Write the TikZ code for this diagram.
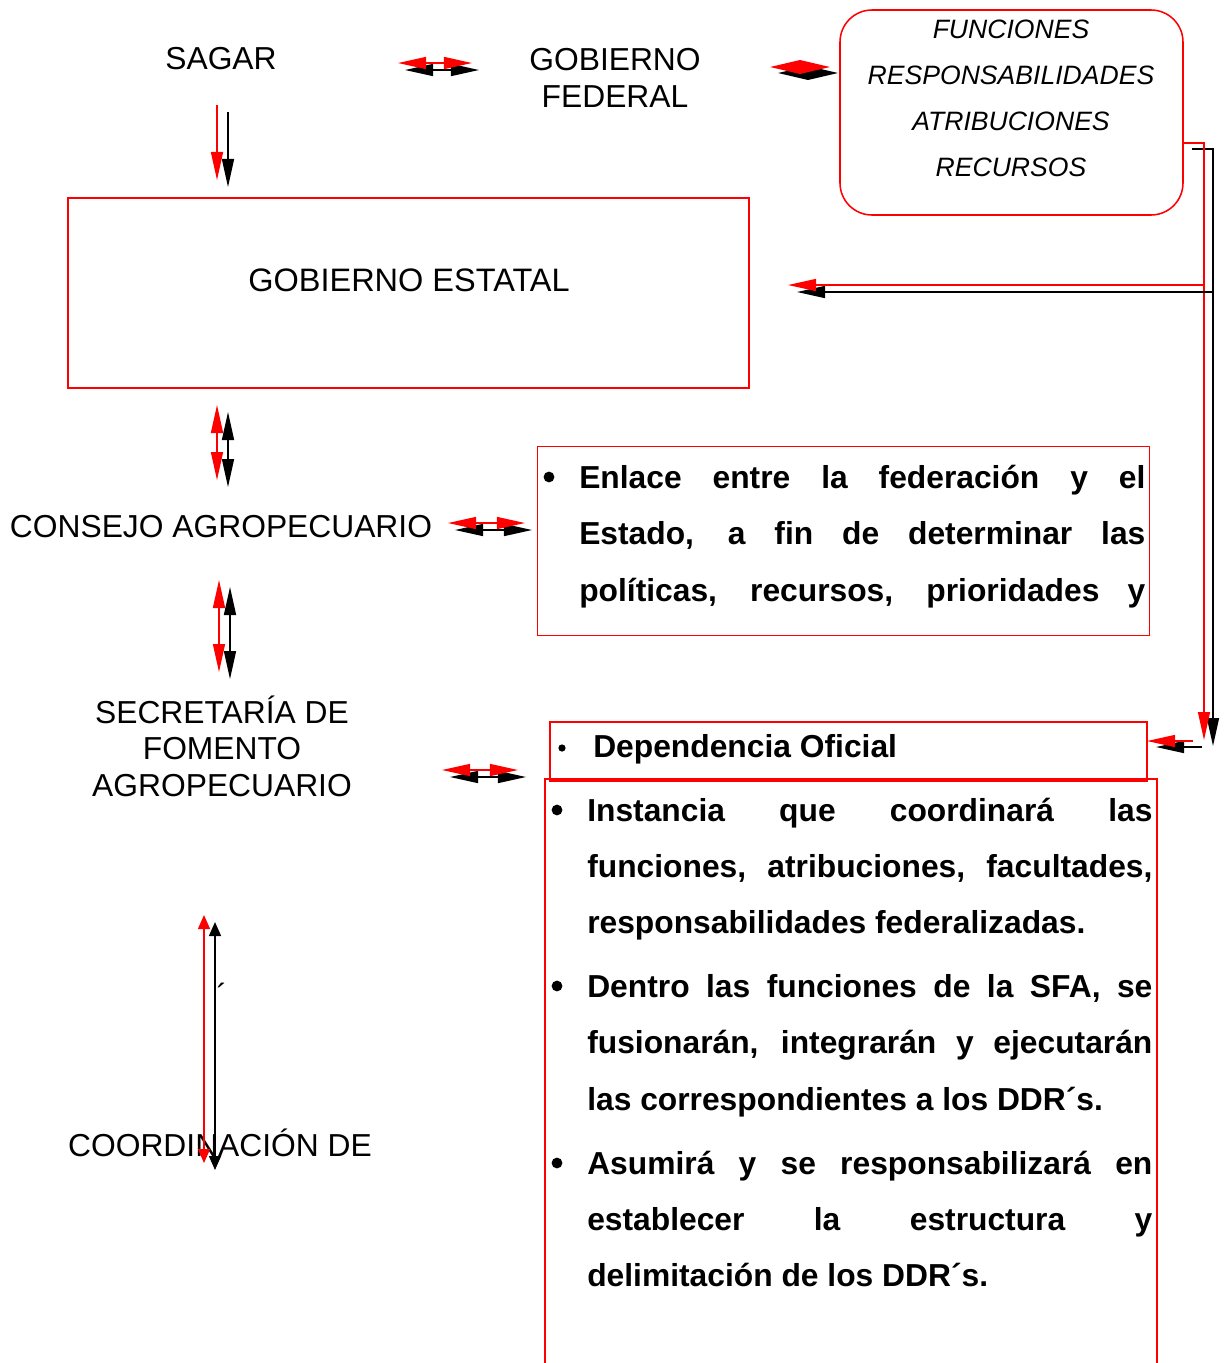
\documentclass[tikz,border=0pt]{standalone}
\usepackage{fontspec}
\setmainfont{Liberation Sans}
\usetikzlibrary{arrows.meta}

\begin{document}
\begin{tikzpicture}[x=0.025cm, y=-0.025cm,
  >={Triangle[length=0.7cm, width=0.3cm]},
  lbl/.style={font=\fontsize{22.6}{26}\selectfont, align=center, inner sep=0pt},
  itl/.style={font=\fontsize{18.9}{22}\selectfont\itshape, inner sep=0pt},
  bld/.style={font=\fontsize{22.6}{26}\selectfont\bfseries, inner sep=0pt, anchor=west, text height=16.2pt, text depth=0pt},
  dot/.style={circle, fill=black, inner sep=0pt, minimum size=0.27cm},
  arr/.style={red, line width=1pt},
  shd/.style={black, line width=1pt, transform canvas={shift={(#1)}}},
  shd/.default={7,7}]
  \useasboundingbox (0,0) rectangle (1227,1363);

  % text and boxes
  \node[lbl] (sagar) at (221,59) {SAGAR};
  \node[lbl] (gobfed) at (615,78) {GOBIERNO\\FEDERAL};
  \draw[red, line width=1.1pt, rounded corners=0.8cm] (840,10) rectangle (1183,215);
  \node[itl] (f1) at (1011,29) {FUNCIONES};
  \node[itl] (f2) at (1011,75) {RESPONSABILIDADES};
  \node[itl] (f3) at (1011,121) {ATRIBUCIONES};
  \node[itl] (f4) at (1011,167) {RECURSOS};
  \draw[red, line width=1.4pt] (68,198) rectangle (749,388);
  \node[lbl, font=\fontsize{23.1}{26}\selectfont] (estatal) at (409,280) {GOBIERNO ESTATAL};
  \node[lbl] (consejo) at (221,527) {CONSEJO AGROPECUARIO};
  \draw[red, line width=0.7pt] (537,446) rectangle (1149,635);
  \node[dot] at (549,477) {};
  \node[bld] (e1) at (579,477) {\makebox[14.15cm][s]{Enlace entre la federación y el}};
  \node[bld] (e2) at (579,533) {\makebox[14.15cm][s]{Estado, a fin de determinar las}};
  \node[bld] (e3) at (579,590) {\makebox[14.15cm][s]{políticas, recursos, prioridades y}};
  \node[lbl] (sfa) at (222,746) {SECRETARÍA DE\\FOMENTO\\AGROPECUARIO};
  \draw[red, line width=1.8pt] (550,722) rectangle (1147,781);
  \node[dot, minimum size=0.18cm] at (562,748) {};
  \node[bld] (dep) at (593,746) {Dependencia Oficial};
  \draw[red, line width=1pt] (545,1370) -- (545,779) -- (1157,779) -- (1157,1370);
  \node[dot] at (557,810) {};
  \node[bld] (i1) at (587,810) {\makebox[14.125cm][s]{Instancia que coordinará las}};
  \node[bld] (i2) at (587,866) {\makebox[14.125cm][s]{funciones, atribuciones, facultades,}};
  \node[bld] (i3) at (587,922) {responsabilidades federalizadas.};
  \node[dot] at (557,986) {};
  \node[bld] (d1) at (587,986) {\makebox[14.125cm][s]{Dentro las funciones de la SFA, se}};
  \node[bld] (d2) at (587,1042) {\makebox[14.125cm][s]{fusionarán, integrarán y ejecutarán}};
  \node[bld] (d3) at (587,1099) {las correspondientes a los DDR´s.};
  \node[dot] at (557,1163) {};
  \node[bld] (a1) at (587,1163) {\makebox[14.125cm][s]{Asumirá y se responsabilizará en}};
  \node[bld] (a2) at (587,1219) {\makebox[14.125cm][s]{establecer la estructura y}};
  \node[bld] (a3) at (587,1275) {delimitación de los DDR´s.};
  \node[lbl] (coord) at (220,1143) {COORDINACIÓN DE};
  \node[lbl] (acc) at (222,995) {´};

  % arrow ends
  \coordinate (s1) at (398,63);   \coordinate (s2) at (472,63);
  \coordinate (g1) at (770,67);   \coordinate (g2) at (830,67);
  \coordinate (v1) at (217,105);  \coordinate (v2) at (217,180);
  \coordinate (r0) at (1183,143); \coordinate (r1) at (1204,143);
  \coordinate (r2) at (1204,740);
  \coordinate (h1) at (1204,285); \coordinate (h2) at (788,285);
  \coordinate (k1) at (1193,741); \coordinate (k2) at (1147,741);
  \coordinate (c1) at (217,405);  \coordinate (c2) at (217,480);
  \coordinate (n1) at (448,523);  \coordinate (n2) at (525,523);
  \coordinate (m1) at (219,580);  \coordinate (m2) at (219,672);
  \coordinate (p1) at (442,770);  \coordinate (p2) at (518,770);
  \coordinate (l1) at (204,915);  \coordinate (l2) at (204,1163);

  % arrows, black shadow first
  \draw[shd, <->] (s1) -- (s2);
  \draw[arr, <->] (s1) -- (s2);
  \draw[shd={8,6}, <->, >={Triangle[length=0.75cm, width=0.34cm]}] (g1) -- (g2);
  \draw[arr, <->, >={Triangle[length=0.75cm, width=0.34cm]}] (g1) -- (g2);
  \draw[shd={11,7}, ->] (v1) -- (v2);
  \draw[arr, ->] (v1) -- (v2);
  \draw[shd={9,6}, ->] (r0) -- (r1) -- (r2);
  \draw[arr, ->] (r0) -- (r1) -- (r2);
  \draw[shd={9,7}, ->] (h1) -- (h2);
  \draw[arr, ->] (h1) -- (h2);
  \draw[shd={9,6}, ->] (k1) -- (k2);
  \draw[arr, ->] (k1) -- (k2);
  \draw[shd={11,7}, <->] (c1) -- (c2);
  \draw[arr, <->] (c1) -- (c2);
  \draw[shd, <->] (n1) -- (n2);
  \draw[arr, <->] (n1) -- (n2);
  \draw[shd={11,7}, <->] (m1) -- (m2);
  \draw[arr, <->] (m1) -- (m2);
  \draw[shd={8,7}, <->] (p1) -- (p2);
  \draw[arr, <->] (p1) -- (p2);
  \draw[shd={11,7}, <->, >={Triangle[length=0.35cm, width=0.3cm]}] (l1) -- (l2);
  \draw[arr, <->, >={Triangle[length=0.35cm, width=0.3cm]}] (l1) -- (l2);
\end{tikzpicture}
\end{document}
